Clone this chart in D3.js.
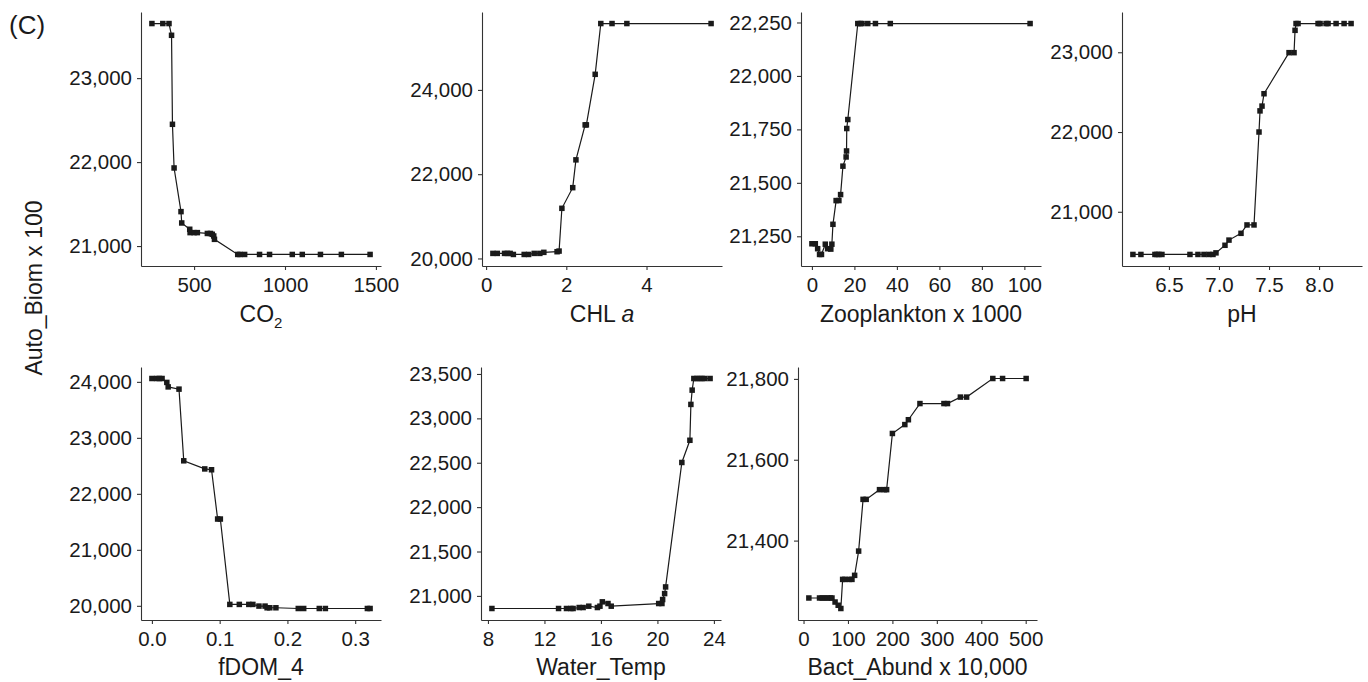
<!DOCTYPE html>
<html>
<head>
<meta charset="utf-8">
<script src="https://cdn.jsdelivr.net/npm/d3@7"></script>
<style>
  body { margin: 0; background: #fff; }
  svg { font-family: "Liberation Sans", Arial, Helvetica, sans-serif; }
</style>
</head>
<body>
<svg id="chart" width="1368" height="682"></svg>
<script>
// ---- data ----
const co2X = [268, 328, 362, 376, 381, 390, 428, 432, 476, 478, 500, 518, 573, 590, 600, 608, 612, 740, 752, 778, 860, 915, 1040, 1095, 1195, 1310, 1468];
const co2Y = [23650, 23650, 23650, 23510, 22450, 21930, 21410, 21275, 21200, 21160, 21160, 21160, 21150, 21150, 21140, 21120, 21080, 20900, 20900, 20900, 20900, 20900, 20900, 20900, 20900, 20900, 20900];

const chlX = [0.17, 0.28, 0.46, 0.53, 0.60, 0.68, 0.95, 1.06, 1.20, 1.34, 1.44, 1.77, 1.82, 1.89, 2.16, 2.24, 2.47, 2.50, 2.72, 2.86, 3.14, 3.51, 5.61];
const chlY = [20120, 20120, 20120, 20120, 20120, 20095, 20095, 20095, 20120, 20120, 20145, 20160, 20175, 21190, 21680, 22340, 23170, 23170, 24370, 25575, 25575, 25575, 25575];

const zooX = [0.0, 1.6, 2.7, 3.6, 4.5, 6.3, 7.4, 8.9, 9.4, 9.9, 11.4, 12.7, 13.5, 14.6, 16.1, 16.3, 16.4, 16.9, 21.6, 22.8, 23.6, 26.3, 29.9, 36.9, 102.7];
const zooY = [21215, 21215, 21192, 21165, 21165, 21213, 21192, 21190, 21213, 21306, 21417, 21417, 21445, 21578, 21621, 21649, 21754, 21796, 22245, 22245, 22245, 22245, 22245, 22245, 22245];

const phX = [6.14, 6.22, 6.36, 6.38, 6.40, 6.43, 6.71, 6.79, 6.85, 6.90, 6.94, 6.97, 7.06, 7.10, 7.22, 7.28, 7.35, 7.40, 7.41, 7.43, 7.45, 7.70, 7.75, 7.76, 7.77, 7.79, 7.99, 8.01, 8.07, 8.09, 8.17, 8.25, 8.32];
const phY = [20465, 20465, 20465, 20465, 20465, 20465, 20465, 20465, 20465, 20465, 20465, 20485, 20580, 20645, 20730, 20835, 20835, 22000, 22265, 22325, 22480, 22995, 22995, 23275, 23360, 23360, 23360, 23360, 23360, 23360, 23360, 23360, 23360];

const fdomX = [0.000, 0.007, 0.011, 0.015, 0.022, 0.024, 0.040, 0.047, 0.078, 0.088, 0.097, 0.101, 0.115, 0.129, 0.143, 0.149, 0.158, 0.167, 0.170, 0.174, 0.183, 0.216, 0.224, 0.247, 0.256, 0.318, 0.322];
const fdomY = [24060, 24060, 24060, 24060, 23990, 23910, 23870, 22590, 22445, 22430, 21550, 21550, 20025, 20025, 20025, 20025, 19995, 19995, 19965, 19965, 19965, 19952, 19952, 19952, 19952, 19952, 19952];

const wtX = [8.28, 13.0, 13.56, 13.87, 14.03, 14.46, 14.74, 15.14, 15.75, 15.93, 16.10, 16.50, 16.73, 20.09, 20.32, 20.37, 20.51, 20.58, 21.73, 22.30, 22.37, 22.46, 22.58, 22.79, 22.98, 23.16, 23.35, 23.73];
const wtY = [20858, 20858, 20858, 20858, 20858, 20869, 20869, 20884, 20869, 20884, 20933, 20914, 20884, 20914, 20914, 20959, 21026, 21101, 22503, 22753, 23157, 23318, 23449, 23449, 23449, 23449, 23449, 23449];

const bactX = [12, 36, 42, 48, 54, 60, 64, 71, 78, 84, 88, 93, 103, 109, 115, 124, 134, 141, 171, 182, 187, 200, 228, 236, 262, 316, 324, 353, 367, 426, 448, 501];
const bactY = [21258, 21258, 21258, 21258, 21258, 21258, 21258, 21248, 21240, 21232, 21304, 21304, 21304, 21304, 21314, 21374, 21502, 21502, 21526, 21526, 21526, 21665, 21687, 21699, 21739, 21739, 21739, 21755, 21755, 21801, 21801, 21801];

// tick values
const co2Ticks = [500, 1000, 1500],            co2YTicks = [21000, 22000, 23000];
const chlTicks = [0, 2, 4],                    chlYTicks = [20000, 22000, 24000];
const zooTicks = [0, 20, 40, 60, 80, 100],     zooYTicks = [21250, 21500, 21750, 22000, 22250];
const phTicks = [6.5, 7.0, 7.5, 8.0],          phYTicks = [21000, 22000, 23000];
const fdomTicks = [0, 0.1, 0.2, 0.3],          fdomYTicks = [20000, 21000, 22000, 23000, 24000];
const wtTicks = [8, 12, 16, 20, 24],           wtYTicks = [21000, 21500, 22000, 22500, 23000, 23500];
const bactTicks = [0, 100, 200, 300, 400, 500], bactYTicks = [21400, 21600, 21800];

// ---- layout ----
const ROW1 = {top: 12, bottom: 266, title: 322};
const ROW2 = {top: 367, bottom: 620, title: 675};
const AXIS_COLOR = "#333";
const INK = "#1a1a1a";
const TICK_FONT = "20.5px";
const TITLE_FONT = "23px";

const panels = [
  {x: co2X,  y: co2Y,  xt: co2Ticks,  yt: co2YTicks,  xf: d3.format("d"),   left: 141,  right: 381,  row: ROW1, title: "co2"},
  {x: chlX,  y: chlY,  xt: chlTicks,  yt: chlYTicks,  xf: d3.format("d"),   left: 482,  right: 722,  row: ROW1, title: "chl"},
  {x: zooX,  y: zooY,  xt: zooTicks,  yt: zooYTicks,  xf: d3.format("d"),   left: 801,  right: 1041, row: ROW1, title: "Zooplankton x 1000"},
  {x: phX,   y: phY,   xt: phTicks,   yt: phYTicks,   xf: d3.format(".1f"), left: 1122, right: 1362, row: ROW1, title: "pH"},
  {x: fdomX, y: fdomY, xt: fdomTicks, yt: fdomYTicks, xf: d3.format(".1f"), left: 141,  right: 381,  row: ROW2, title: "fDOM_4"},
  {x: wtX,   y: wtY,   xt: wtTicks,   yt: wtYTicks,   xf: d3.format("d"),   left: 481,  right: 721,  row: ROW2, title: "Water_Temp"},
  {x: bactX, y: bactY, xt: bactTicks, yt: bactYTicks, xf: d3.format("d"),   left: 798,  right: 1037, row: ROW2, title: "Bact_Abund x 10,000"}
];

const svg = d3.select("#chart");

// ggplot-style 5% padding on the data range
function expand(ext){
  const pad = (ext[1] - ext[0]) * 0.05;
  return [ext[0] - pad, ext[1] + pad];
}

function drawPanel(p){
  const w = p.right - p.left;
  const h = p.row.bottom - p.row.top;
  const g = svg.append("g").attr("transform", `translate(${p.left},${p.row.top})`);

  const sx = d3.scaleLinear().domain(expand(d3.extent(p.x))).range([0, w]);
  const sy = d3.scaleLinear().domain(expand(d3.extent(p.y))).range([h, 0]);

  const gx = g.append("g")
    .attr("transform", `translate(0,${h})`)
    .call(d3.axisBottom(sx).tickValues(p.xt).tickFormat(p.xf).tickSize(4).tickSizeOuter(0).tickPadding(7));
  const gy = g.append("g")
    .call(d3.axisLeft(sy).tickValues(p.yt).tickFormat(d3.format(",")).tickSize(4).tickSizeOuter(0).tickPadding(5));

  [gx, gy].forEach(a => {
    a.select(".domain").attr("stroke", AXIS_COLOR).attr("stroke-width", 1.1);
    a.selectAll(".tick line").attr("stroke", AXIS_COLOR).attr("stroke-width", 1.1);
    a.selectAll(".tick text").attr("fill", INK).style("font-size", TICK_FONT)
      .style("font-family", "'Liberation Sans', Arial, Helvetica, sans-serif");
  });

  const pts = p.x.map((v, i) => [v, p.y[i]]);

  g.append("path")
    .datum(pts)
    .attr("fill", "none")
    .attr("stroke", INK)
    .attr("stroke-width", 1.2)
    .attr("d", d3.line().x(d => sx(d[0])).y(d => sy(d[1])));

  g.selectAll("rect.pt")
    .data(pts)
    .join("rect")
    .attr("class", "pt")
    .attr("x", d => sx(d[0]) - 2.75)
    .attr("y", d => sy(d[1]) - 2.75)
    .attr("width", 5.5)
    .attr("height", 5.5)
    .attr("fill", INK);

  // x axis title
  const t = svg.append("text")
    .attr("x", p.left + w / 2)
    .attr("y", p.row.title)
    .attr("text-anchor", "middle")
    .attr("fill", INK)
    .style("font-size", TITLE_FONT);
  if(p.title === "co2"){
    t.append("tspan").text("CO");
    t.append("tspan").attr("dy", 6).style("font-size", "15px").text("2");
  }else if(p.title === "chl"){
    t.append("tspan").text("CHL ");
    t.append("tspan").style("font-style", "italic").text("a");
  }else{
    t.text(p.title);
  }
}

panels.forEach(drawPanel);

// shared y title
svg.append("text")
  .attr("transform", "translate(42,288) rotate(-90)")
  .attr("text-anchor", "middle")
  .attr("fill", INK)
  .style("font-size", TITLE_FONT)
  .text("Auto_Biom x 100");

// panel tag
svg.append("text")
  .attr("x", 9)
  .attr("y", 34)
  .attr("fill", INK)
  .style("font-size", "26px")
  .text("(C)");
</script>
</body>
</html>
